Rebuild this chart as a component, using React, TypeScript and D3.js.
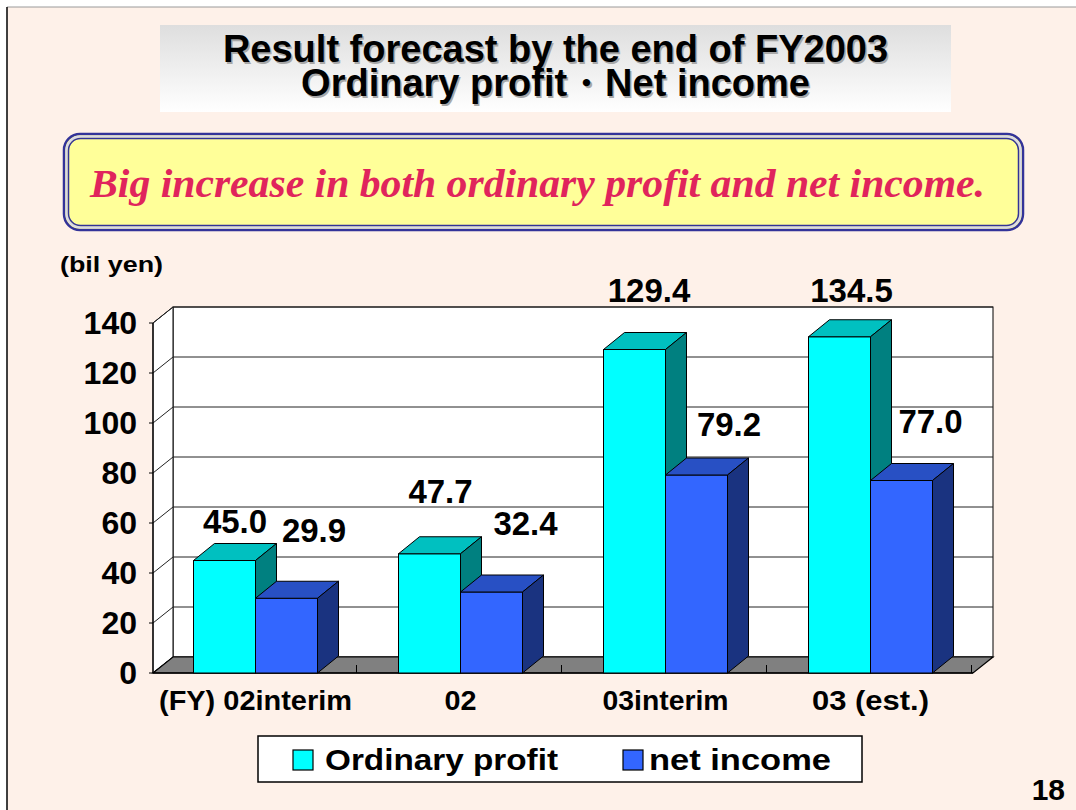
import React from 'react';
import * as d3 from 'd3';

// chart values
const categories = ['(FY) 02interim', '02', '03interim', '03 (est.)'];
const seriesNames = ['Ordinary profit', 'net income'];
const ordinaryProfit = [45.0, 47.7, 129.4, 134.5];
const netIncome = [29.9, 32.4, 79.2, 77.0];
const yTicks = [0, 20, 40, 60, 80, 100, 120, 140];

// hand placed label nudges on the original slide (px)
const ordinaryNudge = [[0, 1.5], [0.5, -22], [4, -18.5], [1.5, -6]];
const netNudge = [[17, -27], [23.5, -28], [22, -10], [18.5, -18.5]];
const catLabelWidths = [193, 32, 126, 117];

const W = 1076;
const H = 810;
const plot = { left: 153, right: 973, top: 323, bottom: 673 };
const wall = { dx: 20, dy: 16 };
const bar = { dx: 21, dy: 17, width: 62 };

const colors = {
  ordinary: { front: '#00FFFF', top: '#00C0C0', side: '#008080' },
  net: { front: '#3366FF', top: '#2850C4', side: '#1A3380' },
};

const sans = '"Liberation Sans", Arial, sans-serif';
const serif = '"Liberation Serif", "Times New Roman", serif';

const App = () => {
  const y = d3.scaleLinear().domain([0, 140]).range([plot.bottom, plot.top]);
  const x = d3.scaleBand().domain(categories).range([plot.left, plot.right]).padding(0);
  const sub = d3.scaleBand().domain(seriesNames).range([0, bar.width * 2]).padding(0);
  const groupOffset = (x.bandwidth() - bar.width * 2) / 2;

  const pts = (p) => p.map((q) => q.join(',')).join(' ');

  const drawBar = (cat, series, value, c) => {
    const x0 = x(cat) + groupOffset + sub(series);
    const x1 = x0 + bar.width;
    const yt = y(value);
    const yb = y(0);
    return (
      <g key={cat + series}>
        <rect x={x0} y={yt} width={bar.width} height={yb - yt} fill={c.front} stroke="#000" strokeWidth={1} />
        <polygon
          points={pts([[x0, yt], [x1, yt], [x1 + bar.dx, yt - bar.dy], [x0 + bar.dx, yt - bar.dy]])}
          fill={c.top}
          stroke="#000"
          strokeWidth={1}
        />
        <polygon
          points={pts([[x1, yt], [x1 + bar.dx, yt - bar.dy], [x1 + bar.dx, yb - bar.dy], [x1, yb]])}
          fill={c.side}
          stroke="#000"
          strokeWidth={1}
        />
      </g>
    );
  };

  const labelPos = (cat, series, value, nudge) => {
    const cx = x(cat) + groupOffset + sub(series) + bar.width / 2 + bar.dx / 2;
    return { x: cx + nudge[0], y: y(value) - bar.dy - 12 + nudge[1] };
  };

  const backLeft = plot.left + wall.dx;
  const backRight = plot.right + wall.dx;

  return (
    <div style={{ position: 'absolute', left: 0, top: 0 }}>
      <svg width={W} height={H} style={{ display: 'block' }}>
        <defs>
          <linearGradient id="titleGrad" x1="0" y1="0" x2="0" y2="1">
            <stop offset="0%" stopColor="#DEDEDE" />
            <stop offset="100%" stopColor="#FFFFFF" />
          </linearGradient>
        </defs>
        <rect x={0} y={0} width={W} height={H} fill="#FFFFFF" />
        <rect x={7} y={7} width={W} height={H} fill="#FEF1E9" />
        <line x1={7} y1={7} x2={W} y2={7} stroke="#9A9A9A" strokeWidth={1} />
        <line x1={7} y1={7} x2={7} y2={H} stroke="#000" strokeWidth={1.5} />

        {/* title */}
        <rect x={160} y={25} width={791} height={87} fill="url(#titleGrad)" />
        {[
          { t: 'Result forecast by the end of FY2003', y: 62 },
          { t: 'Ordinary profit・Net income', y: 96 },
        ].map((l) => (
          <g key={l.t} fontFamily={sans} fontWeight="bold" fontSize={38} textAnchor="middle">
            <text x={557} y={l.y + 1.5} fill="#A8A8A8">{l.t}</text>
            <text x={555.5} y={l.y} fill="#000">{l.t}</text>
          </g>
        ))}

        {/* banner */}
        <rect x={64} y={134} width={959} height={96} rx={16} fill="#FFFF99" stroke="#333399" strokeWidth={2.5} />
        <rect x={66.5} y={136.5} width={954} height={91} rx={14} fill="none" stroke="#D8D8EE" strokeWidth={2} />
        <rect x={68.5} y={138.5} width={950} height={87} rx={12} fill="none" stroke="#333399" strokeWidth={1.5} />
        <text
          x={90}
          y={197}
          fontFamily={serif}
          fontStyle="italic"
          fontWeight="bold"
          fontSize={40}
          fill="#E0245C"
          textLength={895}
          lengthAdjust="spacingAndGlyphs"
        >
          Big increase in both ordinary profit and net income.
        </text>

        {/* unit */}
        <text x={60} y={272} fontFamily={sans} fontWeight="bold" fontSize={22} textLength={103} lengthAdjust="spacingAndGlyphs">
          (bil yen)
        </text>

        {/* back wall */}
        <rect
          x={backLeft}
          y={y(140) - wall.dy}
          width={backRight - backLeft}
          height={y(0) - y(140)}
          fill="#FFFFFF"
          stroke="#000"
          strokeWidth={1}
        />
        {/* left wall */}
        <polygon
          points={pts([
            [plot.left, y(140)],
            [backLeft, y(140) - wall.dy],
            [backLeft, y(0) - wall.dy],
            [plot.left, y(0)],
          ])}
          fill="#FFFFFF"
          stroke="#000"
          strokeWidth={1}
        />
        {yTicks.map((t) => (
          <g key={t}>
            <line x1={backLeft} x2={backRight} y1={y(t) - wall.dy} y2={y(t) - wall.dy} stroke="#222" strokeWidth={1} />
            <line x1={plot.left} x2={backLeft} y1={y(t)} y2={y(t) - wall.dy} stroke="#222" strokeWidth={1} />
            <line x1={plot.left - 4} x2={plot.left} y1={y(t)} y2={y(t)} stroke="#000" strokeWidth={1} />
            <text
              x={137}
              y={y(t) + 11}
              textAnchor="end"
              fontFamily={sans}
              fontWeight="bold"
              fontSize={32}
              fill="#000"
            >
              {t}
            </text>
          </g>
        ))}
        <line x1={plot.left} x2={plot.left} y1={y(140)} y2={y(0)} stroke="#000" strokeWidth={1.2} />

        {/* floor */}
        <polygon
          points={pts([
            [plot.left, y(0)],
            [plot.right, y(0)],
            [backRight, y(0) - wall.dy],
            [backLeft, y(0) - wall.dy],
          ])}
          fill="#808080"
          stroke="#000"
          strokeWidth={1.2}
        />
        {categories.map((c) => (
          <line
            key={'tk' + c}
            x1={x(c) + x.bandwidth() - 1.5}
            x2={x(c) + x.bandwidth() - 1.5}
            y1={y(0)}
            y2={y(0) - 8}
            stroke="#000"
            strokeWidth={1}
          />
        ))}
        <line x1={plot.left} x2={plot.right} y1={y(0)} y2={y(0)} stroke="#000" strokeWidth={1.5} />

        {/* bars */}
        {categories.map((c, i) => (
          <g key={'bars' + c}>
            {drawBar(c, seriesNames[0], ordinaryProfit[i], colors.ordinary)}
            {drawBar(c, seriesNames[1], netIncome[i], colors.net)}
          </g>
        ))}

        {/* value labels */}
        {categories.map((c, i) => {
          const a = labelPos(c, seriesNames[0], ordinaryProfit[i], ordinaryNudge[i]);
          const b = labelPos(c, seriesNames[1], netIncome[i], netNudge[i]);
          return (
            <g key={'lbl' + c} fontFamily={sans} fontWeight="bold" fontSize={33} textAnchor="middle" fill="#000">
              <text x={a.x} y={a.y}>{ordinaryProfit[i].toFixed(1)}</text>
              <text x={b.x} y={b.y}>{netIncome[i].toFixed(1)}</text>
            </g>
          );
        })}

        {/* category labels */}
        {categories.map((c, i) => (
          <text
            key={'cat' + c}
            x={x(c) + x.bandwidth() / 2 - catLabelWidths[i] / 2}
            y={710}
            fontFamily={sans}
            fontWeight="bold"
            fontSize={27}
            textLength={catLabelWidths[i]}
            lengthAdjust="spacingAndGlyphs"
          >
            {c}
          </text>
        ))}

        {/* legend */}
        <rect x={258} y={736} width={604} height={46} fill="#FFFFFF" stroke="#000" strokeWidth={1.5} />
        <rect x={293} y={750} width={20} height={20} fill={colors.ordinary.front} stroke="#000" strokeWidth={1.2} />
        <text x={325} y={770} fontFamily={sans} fontWeight="bold" fontSize={30} textLength={233} lengthAdjust="spacingAndGlyphs">
          {seriesNames[0]}
        </text>
        <rect x={623} y={750} width={20} height={20} fill={colors.net.front} stroke="#000" strokeWidth={1.2} />
        <text x={649} y={770} fontFamily={sans} fontWeight="bold" fontSize={30} textLength={182} lengthAdjust="spacingAndGlyphs">
          {seriesNames[1]}
        </text>

        {/* page number */}
        <text x={1065} y={800} textAnchor="end" fontFamily={sans} fontWeight="bold" fontSize={30} fill="#000">
          18
        </text>
      </svg>
    </div>
  );
};

export default App;
